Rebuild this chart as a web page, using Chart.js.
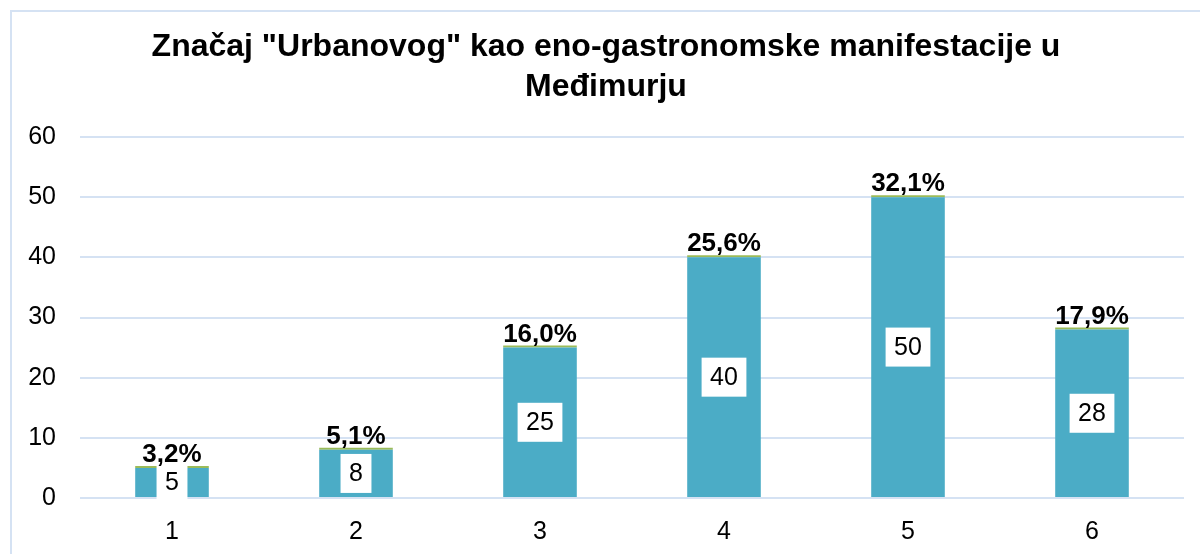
<!DOCTYPE html>
<html>
<head>
<meta charset="utf-8">
<script src="https://cdn.jsdelivr.net/npm/chart.js@4/dist/chart.umd.min.js"></script>
<style>
  html, body { margin: 0; padding: 0; background: #fff; }
  #wrap { position: relative; width: 1200px; height: 554px; overflow: hidden; }
  #frame { position: absolute; left: 10px; top: 10px; width: 1300px; height: 700px;
           border-left: 2px solid #d5e2f3; border-top: 2px solid #d5e2f3; }
  canvas { position: absolute; left: 0; top: 0; }
</style>
</head>
<body>
<div id="wrap">
  <div id="frame"></div>
  <canvas id="urbanovo" width="1200" height="554"></canvas>
</div>
<script>
// Ocjene 1-6, broj ispitanika i udio u postocima
const categories = ['1', '2', '3', '4', '5', '6'];
const counts = [5, 8, 25, 40, 50, 28];
const shares = [0.032, 0.051, 0.160, 0.256, 0.321, 0.179];
const shareLabels = ['3,2%', '5,1%', '16,0%', '25,6%', '32,1%', '17,9%'];
const yTicks = [0, 10, 20, 30, 40, 50, 60];

const FONT = 'Arial, "Liberation Sans", sans-serif';

// Oznake: broj u bijeloj kućici na sredini stupca, postotak iznad stupca
const barLabels = {
  id: 'barLabels',
  afterDatasetsDraw(chart) {
    const ctx = chart.ctx;
    const countBars = chart.getDatasetMeta(0).data;
    const shareBars = chart.getDatasetMeta(1).data;

    ctx.save();
    ctx.textAlign = 'center';
    ctx.textBaseline = 'middle';
    ctx.font = '25px ' + FONT;
    countBars.forEach((bar, i) => {
      const txt = String(counts[i]);
      const cy = (bar.y + bar.base) / 2;
      const w = ctx.measureText(txt).width + 17;
      const h = 39;
      ctx.fillStyle = '#ffffff';
      ctx.fillRect(bar.x - w / 2, cy - h / 2, w, h);
      ctx.fillStyle = '#000000';
      ctx.fillText(txt, bar.x, cy + 1);
    });

    ctx.font = 'bold 26px ' + FONT;
    ctx.textBaseline = 'alphabetic';
    shareBars.forEach((bar, i) => {
      ctx.fillStyle = '#000000';
      ctx.fillText(shareLabels[i], bar.x, bar.y - 4);
    });
    ctx.restore();
  }
};

new Chart(document.getElementById('urbanovo'), {
  type: 'bar',
  data: {
    labels: categories,
    datasets: [
      {
        label: 'Broj',
        data: counts,
        backgroundColor: '#4bacc6',
        categoryPercentage: 1,
        barPercentage: 0.4
      },
      {
        label: 'Postotak',
        data: shares,
        backgroundColor: '#9bbb59',
        minBarLength: 2,
        categoryPercentage: 1,
        barPercentage: 0.4
      }
    ]
  },
  options: {
    responsive: false,
    animation: false,
    layout: { padding: { left: 28, right: 16, top: 0, bottom: 9 } },
    scales: {
      x: {
        stacked: true,
        afterFit: (scale) => { scale.height = 47; },
        grid: { display: false, drawTicks: false },
        border: { display: false },
        ticks: { color: '#000', font: { family: FONT, size: 25 }, padding: 19 }
      },
      y: {
        stacked: true,
        min: 0,
        max: 60,
        afterFit: (scale) => { scale.width = 52; },
        afterBuildTicks: (axis) => { axis.ticks = yTicks.map(v => ({ value: v })); },
        grid: { color: '#d5e2f3', lineWidth: 2, drawTicks: false },
        border: { display: false },
        ticks: { color: '#000', font: { family: FONT, size: 25 }, padding: 24 }
      }
    },
    plugins: {
      legend: { display: false },
      tooltip: { enabled: false },
      title: {
        display: true,
        text: ['Značaj "Urbanovog" kao eno-gastronomske manifestacije u', 'Međimurju'],
        color: '#000',
        font: { family: FONT, size: 32, weight: 'bold', lineHeight: 1.25 },
        padding: { top: 27, bottom: 30 }
      }
    }
  },
  plugins: [barLabels]
});
</script>
</body>
</html>
